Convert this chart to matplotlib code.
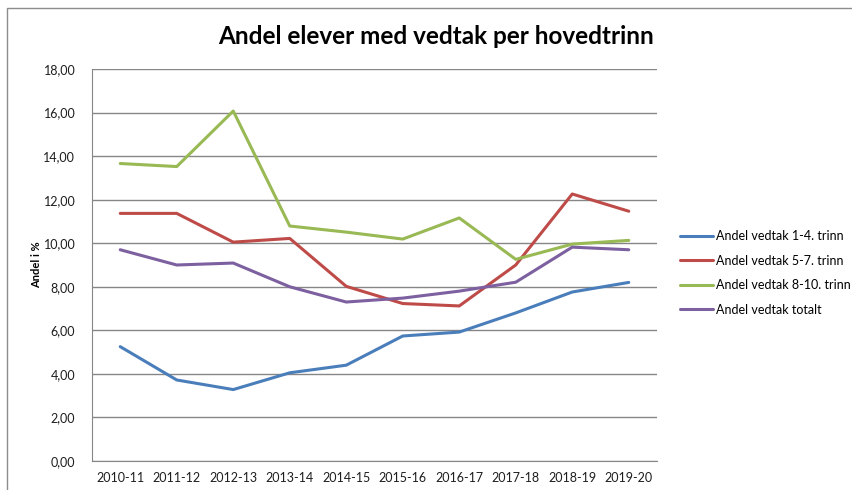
import matplotlib.pyplot as plt
from matplotlib.patches import Rectangle

plt.rcParams["font.family"] = ["Lato", "DejaVu Sans"]

# Data
years = ["2010-11", "2011-12", "2012-13", "2013-14", "2014-15",
         "2015-16", "2016-17", "2017-18", "2018-19", "2019-20"]
trinn_1_4 = [5.25, 3.72, 3.28, 4.05, 4.40, 5.74, 5.92, 6.80, 7.76, 8.20]
trinn_5_7 = [11.37, 11.37, 10.05, 10.22, 8.02, 7.23, 7.12, 9.00, 12.26, 11.47]
trinn_8_10 = [13.66, 13.52, 16.07, 10.79, 10.51, 10.19, 11.16, 9.26, 9.96, 10.13]
totalt = [9.70, 9.00, 9.09, 8.00, 7.30, 7.48, 7.80, 8.21, 9.82, 9.70]

series = [
    ("Andel vedtak 1-4. trinn", trinn_1_4, "#4A7EBB"),
    ("Andel vedtak 5-7. trinn", trinn_5_7, "#BE4B48"),
    ("Andel vedtak 8-10. trinn", trinn_8_10, "#98B954"),
    ("Andel vedtak totalt", totalt, "#7D60A0"),
]

fig = plt.figure(figsize=(8.53, 4.90), dpi=100)
ax = fig.add_axes([92 / 853, 29 / 490, 565 / 853, 392 / 490])

# outer chart frame
fig.patches.append(Rectangle((7 / 853, -0.1), 1.2, 1.1 - 8 / 490,
                             transform=fig.transFigure, fill=False,
                             edgecolor="#8c8c8c", linewidth=1))

x = range(len(years))
for label, values, color in series:
    ax.plot(x, values, color=color, linewidth=2.2, label=label,
            solid_capstyle="round")

ax.set_xlim(-0.5, len(years) - 0.5)
ax.set_ylim(0, 18)
ax.set_yticks(range(0, 19, 2))
ax.set_yticklabels(["{:.2f}".format(v).replace(".", ",") for v in range(0, 19, 2)])
ax.set_xticks(list(x))
ax.set_xticklabels(years)

ax.grid(axis="y", color="#868686", linewidth=1)
ax.set_axisbelow(True)
for side in ["top", "right"]:
    ax.spines[side].set_visible(False)
ax.spines["left"].set_color("#868686")
ax.spines["bottom"].set_color("#868686")
ax.tick_params(axis="both", length=0, labelsize=9, colors="#1e1e1e", pad=8)
ax.tick_params(axis="y", pad=12)

ax.set_ylabel("Andel i %", fontsize=8, fontweight="bold", labelpad=1)
fig.text(436 / 853, 1 - 37 / 490, "Andel elever med vedtak per hovedtrinn",
         ha="center", va="center", fontsize=17.5, fontweight="bold")

ax.legend(loc="upper left", bbox_to_anchor=(674 / 853, 1 - 224 / 490),
          bbox_transform=fig.transFigure, frameon=False, fontsize=9,
          handlelength=2.6, handletextpad=0.3, labelspacing=1.0,
          borderpad=0)

fig.savefig("out.png", dpi=100)
